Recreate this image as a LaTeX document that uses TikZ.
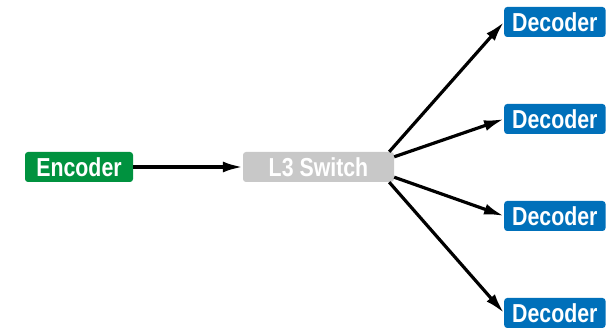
\documentclass[tikz,border=0pt]{standalone}
\usepackage{fontspec}
\setmainfont[FakeStretch=0.82]{Liberation Sans}
\usetikzlibrary{arrows.meta}
\definecolor{encgreen}{RGB}{0,146,63}
\definecolor{decblue}{RGB}{0,112,186}
\definecolor{swgray}{RGB}{200,200,200}
\tikzset{
box/.style={rounded corners=3pt, text=white, font=\bfseries\fontsize{26}{26}\selectfont,
  minimum height=30pt, inner xsep=8pt, inner ysep=0pt},
link/.style={line width=3.2pt, -{Latex[length=20pt,width=11pt]}}
}

\begin{document}
\begin{tikzpicture}[x=1pt,y=-1pt]
\useasboundingbox (0,0) rectangle (607,328);

\node[box, fill=encgreen, minimum width=108pt] (enc) at (79,167) {Encoder};
\node[box, fill=swgray, minimum width=151pt] (sw) at (318.5,167) {L3 Switch};
\foreach \i/\y in {1/22,2/119,3/216,4/313}{
\node[box, fill=decblue, anchor=west] (dec\i) at (504,\y) {Decoder};
}

\draw[link] (enc) -- (sw);
\draw[link] ([xshift=-5pt]sw.north east) -- (dec1.west);
\draw[link] ([yshift=-5pt]sw.north east) -- (dec2.west);
\draw[link] ([yshift=5pt]sw.south east) -- (dec3.west);
\draw[link] ([xshift=-5pt]sw.south east) -- (dec4.west);

\end{tikzpicture}
\end{document}
